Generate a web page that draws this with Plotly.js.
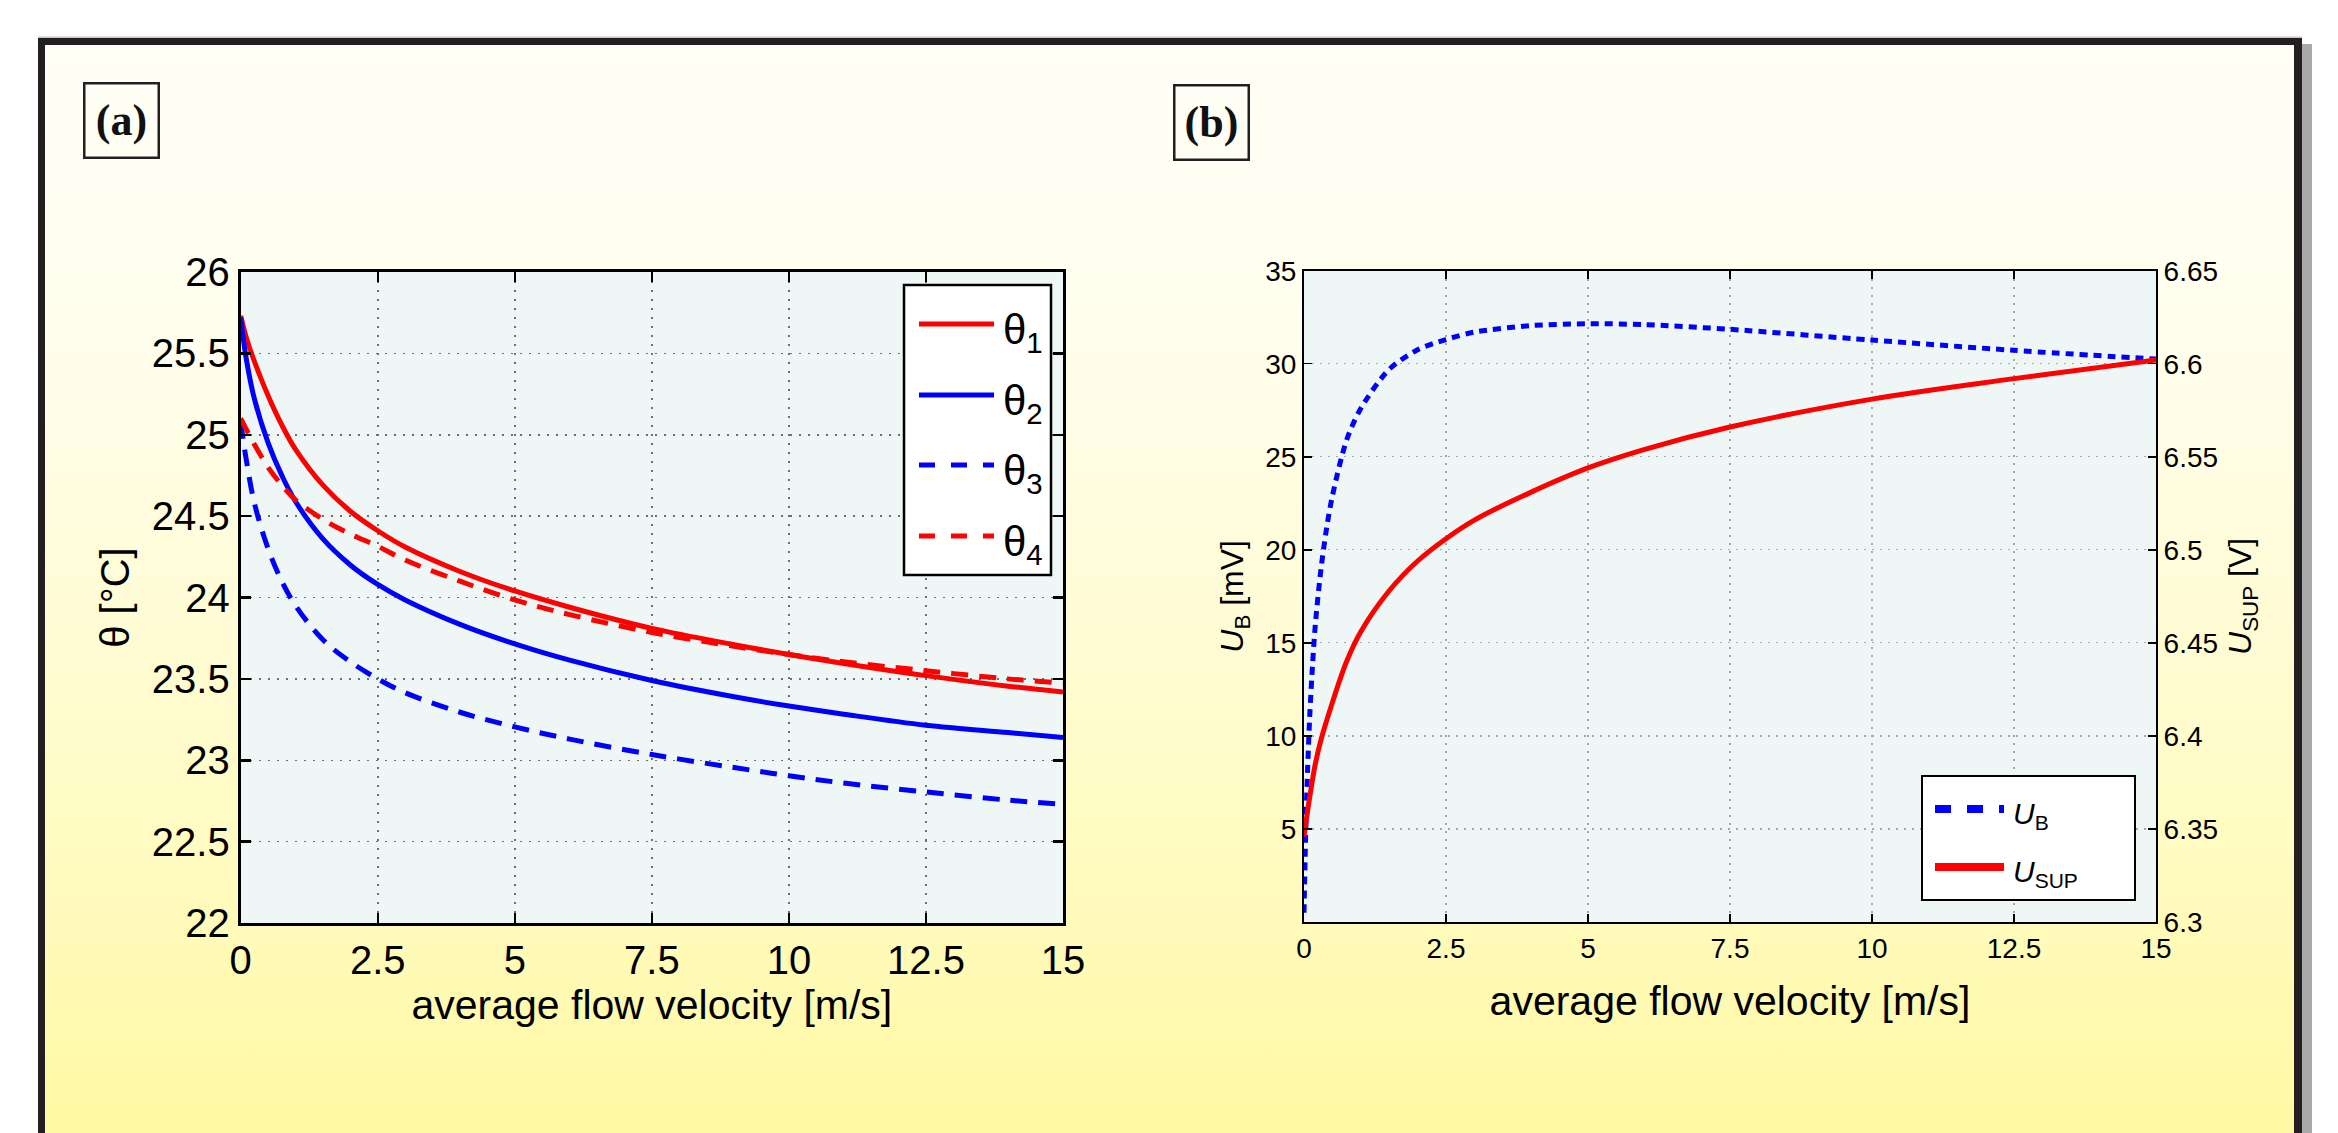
<!DOCTYPE html>
<html><head><meta charset="utf-8">
<script src="https://cdn.plot.ly/plotly-3.0.1.min.js"></script>
<style>
html,body{margin:0;padding:0;background:#ffffff;}
#wrap{position:relative;width:2338px;height:1133px;overflow:hidden;background:#ffffff;}
#bg{position:absolute;left:45px;top:45px;width:2249px;height:1088px;
 background:linear-gradient(to bottom,#fffff7 0%,#fffeee 25%,#fffcd8 50%,#fffbc0 75%,#fff9a4 100%);}
#chart{position:absolute;left:0;top:0;width:2338px;height:1133px;}
</style></head><body>
<div id="wrap"><div id="bg"></div><div id="chart"></div></div>
<script>
// ---------- data (panel a) ----------
const velA   = [0, 0.1, 0.25, 0.5, 0.75, 1, 1.5, 2, 2.5, 3, 4, 5, 6, 7.5, 9, 10, 11, 12.5, 14, 15];
const theta1 = [25.73, 25.60, 25.45, 25.24, 25.06, 24.91, 24.69, 24.53, 24.41, 24.31, 24.16, 24.04, 23.94, 23.81, 23.71, 23.65, 23.595, 23.52, 23.455, 23.42];
const theta2 = [25.72, 25.47, 25.22, 24.95, 24.75, 24.59, 24.36, 24.20, 24.08, 23.985, 23.835, 23.715, 23.615, 23.49, 23.39, 23.333, 23.283, 23.215, 23.17, 23.14];
const theta3 = [25.08, 24.85, 24.58, 24.30, 24.10, 23.95, 23.74, 23.605, 23.50, 23.415, 23.295, 23.205, 23.13, 23.035, 22.955, 22.905, 22.86, 22.805, 22.755, 22.73];
const theta4 = [25.10, 25.035, 24.94, 24.80, 24.69, 24.60, 24.48, 24.39, 24.315, 24.23, 24.10, 23.985, 23.895, 23.785, 23.70, 23.65, 23.605, 23.55, 23.50, 23.475];
const namesA = ['θ<sub>1</sub>', 'θ<sub>2</sub>', 'θ<sub>3</sub>', 'θ<sub>4</sub>'];

// ---------- data (panel b) ----------
const velUB = [0, 0.02, 0.05, 0.1, 0.15, 0.2, 0.3, 0.4, 0.5, 0.75, 1, 1.5, 2, 2.5, 3, 4, 5, 6, 7.5, 10, 12.5, 15];
const uB    = [0.5, 3.5, 7, 11, 13.8, 16, 19, 21.2, 22.9, 25.9, 27.6, 29.7, 30.75, 31.3, 31.7, 32.05, 32.15, 32.1, 31.85, 31.27, 30.72, 30.25];
const velUS = [0, 0.05, 0.1, 0.2, 0.3, 0.5, 0.75, 1, 1.5, 2, 2.5, 3, 4, 5, 6, 7.5, 10, 12.5, 15];
const uSup  = [6.346, 6.357, 6.367, 6.385, 6.398, 6.418, 6.440, 6.456, 6.478, 6.494, 6.506, 6.516, 6.531, 6.544, 6.554, 6.566, 6.581, 6.592, 6.602];
const namesB = ['<i>U</i><sub>B</sub>', '<i>U</i><sub>SUP</sub>'];

// ---------- ticks ----------
const velTicks   = [0, 2.5, 5, 7.5, 10, 12.5, 15];
const velLabels  = ['0', '2.5', '5', '7.5', '10', '12.5', '15'];
const thetaTicks = [22, 22.5, 23, 23.5, 24, 24.5, 25, 25.5, 26];
const thetaLabels= ['22', '22.5', '23', '23.5', '24', '24.5', '25', '25.5', '26'];
const ubTicks    = [5, 10, 15, 20, 25, 30, 35];
const ubLabels   = ['5', '10', '15', '20', '25', '30', '35'];
const usTicks    = [6.3, 6.35, 6.4, 6.45, 6.5, 6.55, 6.6, 6.65];
const usLabels   = ['6.3', '6.35', '6.4', '6.45', '6.5', '6.55', '6.6', '6.65'];

// ---------- geometry helpers (pixels -> paper) ----------
const W = 2338, H = 1133;
const X = p => p / W;
const Y = p => 1 - p / H;

const RED = '#ff0000', BLUE = '#0000ff';
const FONT = 'Liberation Sans, Arial, Helvetica, sans-serif';

const traces = [
  {x: velA, y: theta1, xaxis: 'x', yaxis: 'y', mode: 'lines', line: {color: RED,  width: 5, shape: 'spline', smoothing: 1}},
  {x: velA, y: theta2, xaxis: 'x', yaxis: 'y', mode: 'lines', line: {color: BLUE, width: 5, shape: 'spline', smoothing: 1}},
  {x: velA, y: theta3, xaxis: 'x', yaxis: 'y', mode: 'lines', line: {color: BLUE, width: 5, dash: '17px,11px', shape: 'spline', smoothing: 1}},
  {x: velA, y: theta4, xaxis: 'x', yaxis: 'y', mode: 'lines', line: {color: RED,  width: 5, dash: '17px,11px', shape: 'spline', smoothing: 1}},
  {x: velUB, y: uB,   xaxis: 'x2', yaxis: 'y2', mode: 'lines', line: {color: BLUE, width: 5, dash: '8px,6px', shape: 'spline', smoothing: 0.8}},
  {x: velUS, y: uSup, xaxis: 'x2', yaxis: 'y3', mode: 'lines', line: {color: RED,  width: 5, shape: 'spline', smoothing: 1}}
];

// ---------- axes ----------
const axA = {
  ticks: 'inside', ticklen: 10, tickwidth: 2.5, tickcolor: '#000',
  showline: true, linewidth: 3, linecolor: '#000', mirror: 'ticks',
  showgrid: true, gridcolor: '#707070', gridwidth: 1.5, griddash: '2px,7px',
  zeroline: false, tickfont: {size: 40, color: '#000', family: FONT}, automargin: false
};
const axB = {
  ticks: 'inside', ticklen: 8, tickwidth: 1.5, tickcolor: '#000',
  showline: true, linewidth: 2, linecolor: '#000',
  showgrid: true, gridcolor: '#a8a8a8', gridwidth: 1.2, griddash: '2px,6px',
  zeroline: false, tickfont: {size: 28, color: '#000', family: FONT}, automargin: false
};

const layout = {
  width: W, height: H,
  margin: {l: 0, r: 0, t: 0, b: 0},
  paper_bgcolor: 'rgba(0,0,0,0)',
  plot_bgcolor: '#eef7f6',
  showlegend: false,
  font: {family: FONT, color: '#000'},
  xaxis: Object.assign({}, axA, {
    domain: [X(240.7), X(1063)], anchor: 'y', range: [0, 15],
    tickmode: 'array', tickvals: velTicks, ticktext: velLabels,
    title: {text: 'average flow velocity [m/s]', font: {size: 41, color: '#000'}, standoff: 2}
  }),
  yaxis: Object.assign({}, axA, {
    domain: [Y(923), Y(272)], anchor: 'x', range: [22, 26],
    tickmode: 'array', tickvals: thetaTicks, ticktext: thetaLabels,
    title: {text: 'θ [°C]', font: {size: 40, color: '#000'}, standoff: 10}
  }),
  xaxis2: Object.assign({}, axB, {
    domain: [X(1304), X(2156)], anchor: 'y2', range: [0, 15], mirror: 'ticks',
    tickmode: 'array', tickvals: velTicks, ticktext: velLabels,
    title: {text: 'average flow velocity [m/s]', font: {size: 41, color: '#000'}, standoff: 24}
  }),
  yaxis2: Object.assign({}, axB, {
    domain: [Y(922), Y(270.7)], anchor: 'x2', range: [0, 35], mirror: true,
    tickmode: 'array', tickvals: ubTicks, ticktext: ubLabels,
    title: {text: '<i>U</i><sub>B</sub> [mV]', font: {size: 32, color: '#000'}, standoff: 12}
  }),
  yaxis3: Object.assign({}, axB, {
    overlaying: 'y2', side: 'right', anchor: 'x2', range: [6.3, 6.65], showgrid: false,
    tickmode: 'array', tickvals: usTicks, ticktext: usLabels,
    title: {text: '<i>U</i><sub>SUP</sub> [V]', font: {size: 32, color: '#000'}, standoff: 12}
  }),
  shapes: [],
  annotations: []
};

// ---------- frame ----------
const rect = (x0, y0, x1, y1, fill, line) => ({type: 'rect', xref: 'paper', yref: 'paper',
  x0: X(x0), x1: X(x1), y0: Y(y1), y1: Y(y0), fillcolor: fill,
  line: line || {width: 0}, layer: 'above'});
layout.shapes.push(rect(38, 36.5, 2302, 38.5, '#c8c8c8'));
layout.shapes.push(rect(2302, 44, 2312, 1133, '#a9a9a9'));
layout.shapes.push(rect(38, 38, 2302, 45, '#231f20'));
layout.shapes.push(rect(38, 38, 45, 1133, '#231f20'));
layout.shapes.push(rect(2294, 38, 2302, 1133, '#231f20'));

// ---------- panel labels ----------
const panelLabel = (cx, cy, t) => ({xref: 'paper', yref: 'paper', x: X(cx), y: Y(cy),
  xanchor: 'center', yanchor: 'middle', showarrow: false, text: '<b>' + t + '</b>',
  font: {family: 'Liberation Serif, Times New Roman, serif', size: 44, color: '#111'},
  bordercolor: '#231f20', borderwidth: 2.5, borderpad: 0, width: 72, height: 72});
layout.annotations.push(panelLabel(121, 121, '(a)'));
layout.annotations.push(panelLabel(1211.5, 122, '(b)'));

// ---------- legend (a) ----------
const legA = {x0: 904, y0: 285, x1: 1051, y1: 575, lx0: 919, lx1: 994, tx: 1001, rows: [324, 395, 465, 536]};
const styleA = [
  {color: RED,  dash: 'solid'}, {color: BLUE, dash: 'solid'},
  {color: BLUE, dash: '16px,16px'}, {color: RED, dash: '16px,16px'}
];
layout.shapes.push(Object.assign(rect(legA.x0, legA.y0, legA.x1, legA.y1, '#ffffff', {color: '#000', width: 2.5}), {layer: 'above'}));
namesA.forEach((n, i) => {
  layout.shapes.push({type: 'line', xref: 'paper', yref: 'paper', x0: X(legA.lx0), x1: X(legA.lx1),
    y0: Y(legA.rows[i]), y1: Y(legA.rows[i]), line: {color: styleA[i].color, width: 5, dash: styleA[i].dash}, layer: 'above'});
  layout.annotations.push({xref: 'paper', yref: 'paper', x: X(legA.tx), y: Y(legA.rows[i] + 8),
    xanchor: 'left', yanchor: 'middle', showarrow: false, text: n,
    font: {size: 42, color: '#000', family: FONT}});
});

// ---------- legend (b) ----------
const legB = {x0: 1922, y0: 776, x1: 2135, y1: 900, lx0: 1935, lx1: 2004, tx: 2011, rows: [809, 867]};
const styleB = [{color: BLUE, dash: '16px,16px'}, {color: RED, dash: 'solid'}];
layout.shapes.push(Object.assign(rect(legB.x0, legB.y0, legB.x1, legB.y1, '#ffffff', {color: '#000', width: 2}), {layer: 'above'}));
namesB.forEach((n, i) => {
  layout.shapes.push({type: 'line', xref: 'paper', yref: 'paper', x0: X(legB.lx0), x1: X(legB.lx1),
    y0: Y(legB.rows[i]), y1: Y(legB.rows[i]), line: {color: styleB[i].color, width: 8, dash: styleB[i].dash}, layer: 'above'});
  layout.annotations.push({xref: 'paper', yref: 'paper', x: X(legB.tx), y: Y(legB.rows[i] + 6),
    xanchor: 'left', yanchor: 'middle', showarrow: false, text: n,
    font: {size: 30, color: '#000', family: FONT}});
});

Plotly.newPlot('chart', traces, layout, {staticPlot: true, displayModeBar: false});
</script></body></html>
